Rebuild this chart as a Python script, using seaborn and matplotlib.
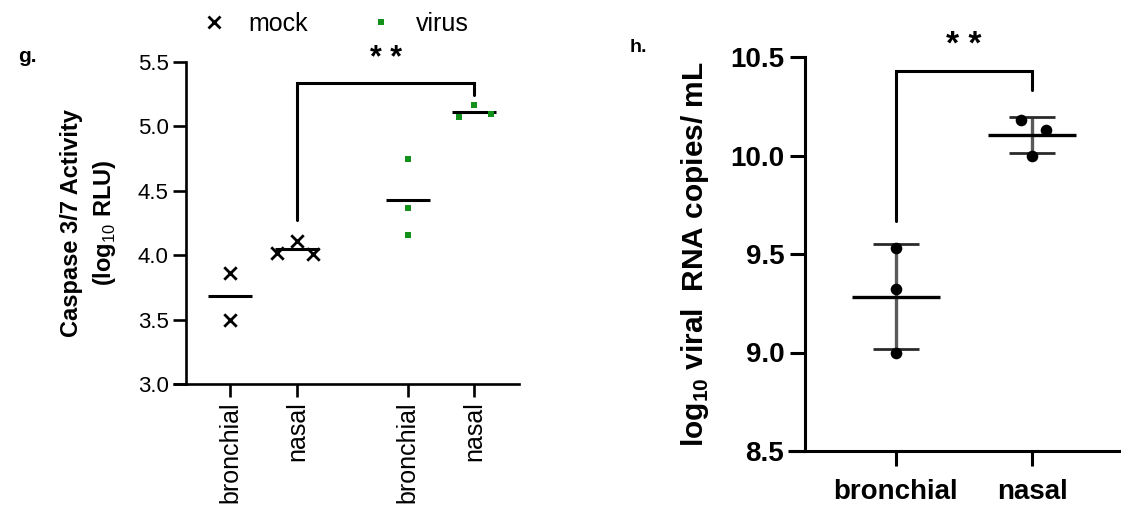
import numpy as np
import pandas as pd
import matplotlib
matplotlib.use("Agg")
import matplotlib.pyplot as plt
from matplotlib.lines import Line2D
import seaborn as sns

# ---------------- data ----------------
# panel g
g_groups = ["mock", "mock", "virus", "virus"]
g_tissues = ["bronchial", "nasal", "bronchial", "nasal"]
g_mock_bronchial = [3.86, 3.50]
g_mock_nasal = [4.02, 4.11, 4.01]
g_virus_bronchial = [4.75, 4.37, 4.16]
g_virus_nasal = [5.07, 5.17, 5.10]
g_jitter_mock_nasal = [-0.30, 0.0, 0.24]
g_jitter_virus_nasal = [-0.22, 0.0, 0.25]
g_yticks = [3.0, 3.5, 4.0, 4.5, 5.0, 5.5]
g_sig = "* *"

# panel h
h_categories = ["bronchial", "nasal"]
h_bronchial = [9.53, 9.32, 9.00]
h_nasal = [10.18, 10.13, 10.00]
h_yticks = [8.5, 9.0, 9.5, 10.0, 10.5]
h_sig = "* *"

# ---------------- style ----------------
sns.set_theme(style="ticks")
plt.rcParams["font.family"] = ["Liberation Sans", "DejaVu Sans"]
plt.rcParams["mathtext.fontset"] = "custom"
plt.rcParams["mathtext.rm"] = "Liberation Sans"
plt.rcParams["mathtext.bf"] = "Liberation Sans:bold"
for k in ["text.color", "axes.labelcolor", "xtick.color", "ytick.color",
          "axes.edgecolor"]:
    plt.rcParams[k] = "black"

W, H = 1121, 517
fig = plt.figure(figsize=(W / 100, H / 100), dpi=100)

def rect(x0, y0, x1, y1):
    return [x0 / W, 1 - y1 / H, (x1 - x0) / W, (y1 - y0) / H]

GREEN = "#12921a"

# ---------------- panel g ----------------
axg = fig.add_axes(rect(186, 62, 519, 384))
g_pos = [0.0, 1.0, 2.65, 3.64]

rows = []
for v in g_mock_bronchial:
    rows.append(("mock", "bronchial", g_pos[0], v))
for v, j in zip(g_mock_nasal, g_jitter_mock_nasal):
    rows.append(("mock", "nasal", g_pos[1] + j, v))
for v in g_virus_bronchial:
    rows.append(("virus", "bronchial", g_pos[2], v))
for v, j in zip(g_virus_nasal, g_jitter_virus_nasal):
    rows.append(("virus", "nasal", g_pos[3] + j, v))
dfg = pd.DataFrame(rows, columns=["group", "tissue", "x", "value"])

sns.scatterplot(data=dfg[dfg.group == "mock"], x="x", y="value", marker="x",
                color="black", s=80, linewidth=2.0, ax=axg, legend=False, zorder=3)
sns.scatterplot(data=dfg[dfg.group == "virus"], x="x", y="value", marker="s",
                color=GREEN, s=24, linewidth=0, ax=axg, legend=False, zorder=3)

g_sets = [g_mock_bronchial, g_mock_nasal, g_virus_bronchial, g_virus_nasal]
for p, vals in zip(g_pos, g_sets):
    m = float(np.mean(vals))
    axg.hlines(m, p - 0.33, p + 0.33, color="black", lw=2.2, zorder=2)

axg.set_xlim(-0.657, 4.31)
axg.set_ylim(3.0, 5.5)
axg.set_yticks(g_yticks)
axg.set_yticklabels([f"{t:.1f}" for t in g_yticks], fontsize=16)
axg.set_xticks(g_pos)
axg.set_xticklabels(g_tissues, rotation=90, fontsize=18, va="top")
axg.set_xlabel("")
axg.set_ylabel("Caspase 3/7 Activity\n(log$_{10}$ RLU)", fontsize=17,
               fontweight="bold", labelpad=14, linespacing=1.4)
for s in ["top", "right"]:
    axg.spines[s].set_visible(False)
for s in ["left", "bottom"]:
    axg.spines[s].set_linewidth(1.9)
    axg.spines[s].set_color("black")
axg.tick_params(axis="both", length=9.5, width=1.9, color="black", pad=3)
axg.plot([-13 / 333, 0], [0, 0], transform=axg.transAxes, color="black",
         lw=1.9, clip_on=False, solid_capstyle="butt")

# bracket g
axg.plot([g_pos[1], g_pos[1], g_pos[3], g_pos[3]], [4.27, 5.335, 5.335, 5.24],
         color="black", lw=2.2, solid_joinstyle="miter", zorder=4)
axg.text((g_pos[1] + g_pos[3]) / 2, 5.52, g_sig, ha="center", va="center",
         fontsize=22, fontweight="bold", clip_on=False)

# legend
handles = [Line2D([], [], ls="none", marker="x", color="black", markersize=9, mew=2),
           Line2D([], [], ls="none", marker="s", color=GREEN, markersize=5, mew=0)]
fig.legend(handles, ["mock", "virus"], loc="center left",
           bbox_to_anchor=(201 / W, 1 - 24 / H), ncol=2, frameon=False,
           fontsize=18, handletextpad=0.9, columnspacing=2.4, handlelength=1.0,
           borderaxespad=0, borderpad=0)

fig.text(18 / W, 1 - 57 / H, "g.", fontsize=15, fontweight="bold", va="center")

# ---------------- panel h ----------------
axh = fig.add_axes(rect(805, 57, 1120, 451))
dfh = pd.DataFrame({
    "tissue": ["bronchial"] * len(h_bronchial) + ["nasal"] * len(h_nasal),
    "value": h_bronchial + h_nasal,
})
h_pos = {c: i for i, c in enumerate(h_categories)}
h_jit = [0.0, 0.0, 0.0, -0.08, 0.10, 0.0]
dfh["x"] = dfh["tissue"].map(h_pos) + np.array(h_jit)

sns.scatterplot(data=dfh, x="x", y="value", color="black", s=70, linewidth=0,
                ax=axh, legend=False, zorder=3)
stats = dfh.groupby("tissue")["value"].agg(["mean", "std"]).reindex(h_categories)
for c, (m, sd) in stats.iterrows():
    p = h_pos[c]
    axh.vlines(p, m - sd, m + sd, color="#5a5a5a", lw=2.4, zorder=2)
    axh.hlines([m - sd, m + sd], p - 0.17, p + 0.17, color="#2a2a2a", lw=2.0, zorder=2)
    axh.hlines(m, p - 0.327, p + 0.327, color="black", lw=2.4, zorder=2)

axh.set_xlim(-0.669, 1.647)
axh.set_ylim(8.5, 10.5)
axh.set_yticks(h_yticks)
axh.set_yticklabels([f"{t:.1f}" for t in h_yticks], fontsize=20, fontweight="bold")
axh.set_xticks([0, 1])
axh.set_xticklabels(h_categories, fontsize=20, fontweight="bold")
axh.tick_params(axis="x", pad=9)
axh.set_xlabel("")
axh.set_ylabel(r"log$_{\mathbf{10}}$ viral  RNA copies/ mL", fontsize=21.5,
               fontweight="bold", labelpad=14)
for s in ["top", "right"]:
    axh.spines[s].set_visible(False)
for s in ["left", "bottom"]:
    axh.spines[s].set_linewidth(2.2)
    axh.spines[s].set_color("black")
axh.tick_params(axis="both", length=11, width=2.2, color="black")
axh.tick_params(axis="y", pad=4)
axh.plot([-17 / 315, 0], [0, 0], transform=axh.transAxes, color="black",
         lw=2.2, clip_on=False, solid_capstyle="butt")

axh.plot([0, 0, 1, 1], [9.67, 10.43, 10.43, 10.33], color="black", lw=2.2,
         solid_joinstyle="miter", zorder=4)
axh.text(0.5, 10.56, h_sig, ha="center", va="center", fontsize=24,
         fontweight="bold", clip_on=False)

fig.text(630 / W, 1 - 47 / H, "h.", fontsize=14, fontweight="bold", va="center")

fig.savefig("out.png", dpi=100)
